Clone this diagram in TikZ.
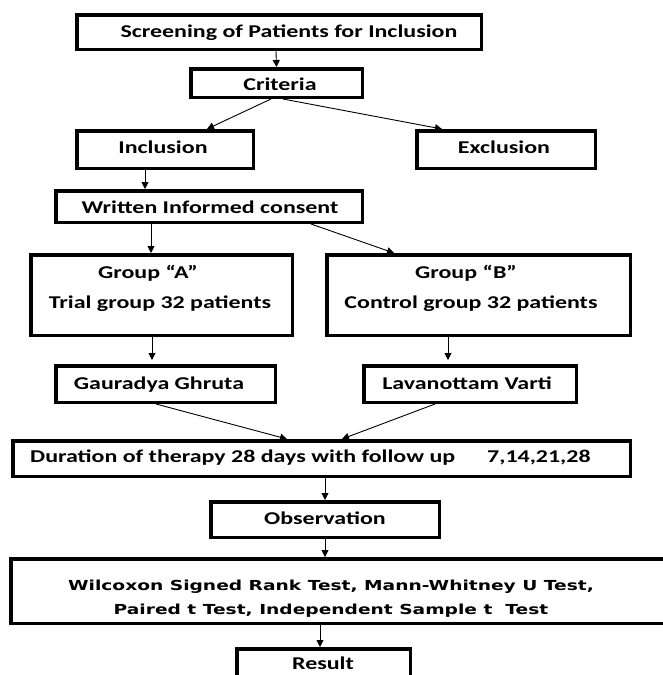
\documentclass[tikz,border=0pt]{standalone}
\usepackage{fontspec}
\setmainfont{Carlito}[FakeStretch=1.33]
\newfontfamily\verd{DejaVu Sans}[FakeStretch=1.35]
\usetikzlibrary{arrows.meta,calc}
\begin{document}
\begin{tikzpicture}[x=1pt,y=-1pt,
  box/.style={draw=black,line width=3.5pt,inner sep=0pt},
  txt/.style={anchor=base,inner sep=0pt,font=\fontsize{18}{21}\selectfont\bfseries},
  vtxt/.style={anchor=base,inner sep=0pt,font=\verd\fontsize{13.8}{16}\selectfont\bfseries},
  arr/.style={line width=0.9pt,-{Triangle[length=7pt,width=7pt]}}]
\fill[white] (0,0) rectangle (663,675);
\useasboundingbox (0,0) rectangle (663,675);
\clip (0,0) rectangle (663,675);
% boxes
\node[box,minimum width=404.5,minimum height=34.5] (scr) at (279,32) {};
\node[box,minimum width=171.5,minimum height=28.5] (crit) at (276.5,83) {};
\node[box,minimum width=176.5,minimum height=37.5] (incl) at (165,149.5) {};
\node[box,minimum width=178.5,minimum height=37.5] (excl) at (506,149.5) {};
\node[box,minimum width=306.5,minimum height=31.5] (wic) at (209,206.5) {};
\node[box,minimum width=261.5,minimum height=80.5] (ga) at (161.5,295) {};
\node[box,minimum width=303.5,minimum height=80.5] (gb) at (478.5,295) {};
\node[box,minimum width=219.5,minimum height=36.5] (gg) at (165.5,384) {};
\node[box,minimum width=212.5,minimum height=36.5] (lv) at (470,384) {};
\node[box,minimum width=617.5,minimum height=35.5] (dur) at (321.5,458.5) {};
\node[box,minimum width=228.5,minimum height=35.5] (obs) at (325,519.5) {};
\node[box,minimum width=659.5,minimum height=64.5] (wil) at (340.5,591) {};
\node[box,minimum width=173.5,minimum height=39.5] (res) at (323.5,668.5) {};
% texts
\node[txt] (scrT) at (289,37) {Screening of Patients for Inclusion};
\node[txt] (critT) at (280,90) {Criteria};
\node[txt] (inclT) at (163,153) {Inclusion};
\node[txt] (exclT) at (504,153) {Exclusion};
\node[txt] (wicT) at (210,213) {Written Informed consent};
\node[txt] (gaT1) at (148,278) {Group “A”};
\node[txt] (gaT2) at (160,308) {Trial group 32 patients};
\node[txt] (gbT1) at (466,278) {Group “B”};
\node[txt] (gbT2) at (471,308) {Control group 32 patients};
\node[txt] (ggT) at (159,389) {Gauradya Ghruta};
\node[txt] (lvT) at (467,389) {Lavanottam Varti};
\node[txt,anchor=base west] (durT) at (30,462) {Duration of therapy 28 days with follow up};
\node[txt,anchor=base west] (durT2) at (487,462) {7,14,21,28};
\node[txt] (obsT) at (325,524) {Observation};
\node[vtxt] (wilT1) at (331,590) {Wilcoxon Signed Rank Test, Mann-Whitney U Test,};
\node[vtxt] (wilT2) at (331,614) {Paired t Test, Independent Sample t\ \ Test};
\node[txt] (resT) at (323,669) {Result};
% arrows
\draw[arr] ([xshift=-3pt]scr.south) -- (crit.north);
\draw[arr] ([xshift=-5.5pt]crit.south) -- ([xshift=42pt]incl.north);
\draw[arr] ([xshift=6.5pt]crit.south) -- ([xshift=-64pt]excl.north);
\draw[arr] ([xshift=-20pt]incl.south) -- ([xshift=-64pt]wic.north);
\draw[arr] ([xshift=-58pt]wic.south) -- ([xshift=-10.5pt]ga.north);
\draw[arr] ([xshift=102pt]wic.south) -- ([xshift=-84.5pt]gb.north);
\draw[arr] ([xshift=-9.5pt]ga.south) -- ([xshift=-13.5pt,yshift=4pt]gg.north);
\draw[arr] ([xshift=-30.5pt]gb.south) -- ([xshift=-22pt,yshift=4pt]lv.north);
\draw[arr] ([xshift=-9.5pt]gg.south) -- ([xshift=-34.5pt]dur.north);
\draw[arr] ([xshift=-35pt]lv.south) -- ([xshift=20.5pt]dur.north);
\draw[arr] ([xshift=3.5pt]dur.south) -- (obs.north);
\draw[arr] (obs.south) -- ([xshift=-15.5pt]wil.north);
\draw[arr] ([xshift=-20.5pt]wil.south) -- ([xshift=-3.5pt]res.north);
\end{tikzpicture}
\end{document}
